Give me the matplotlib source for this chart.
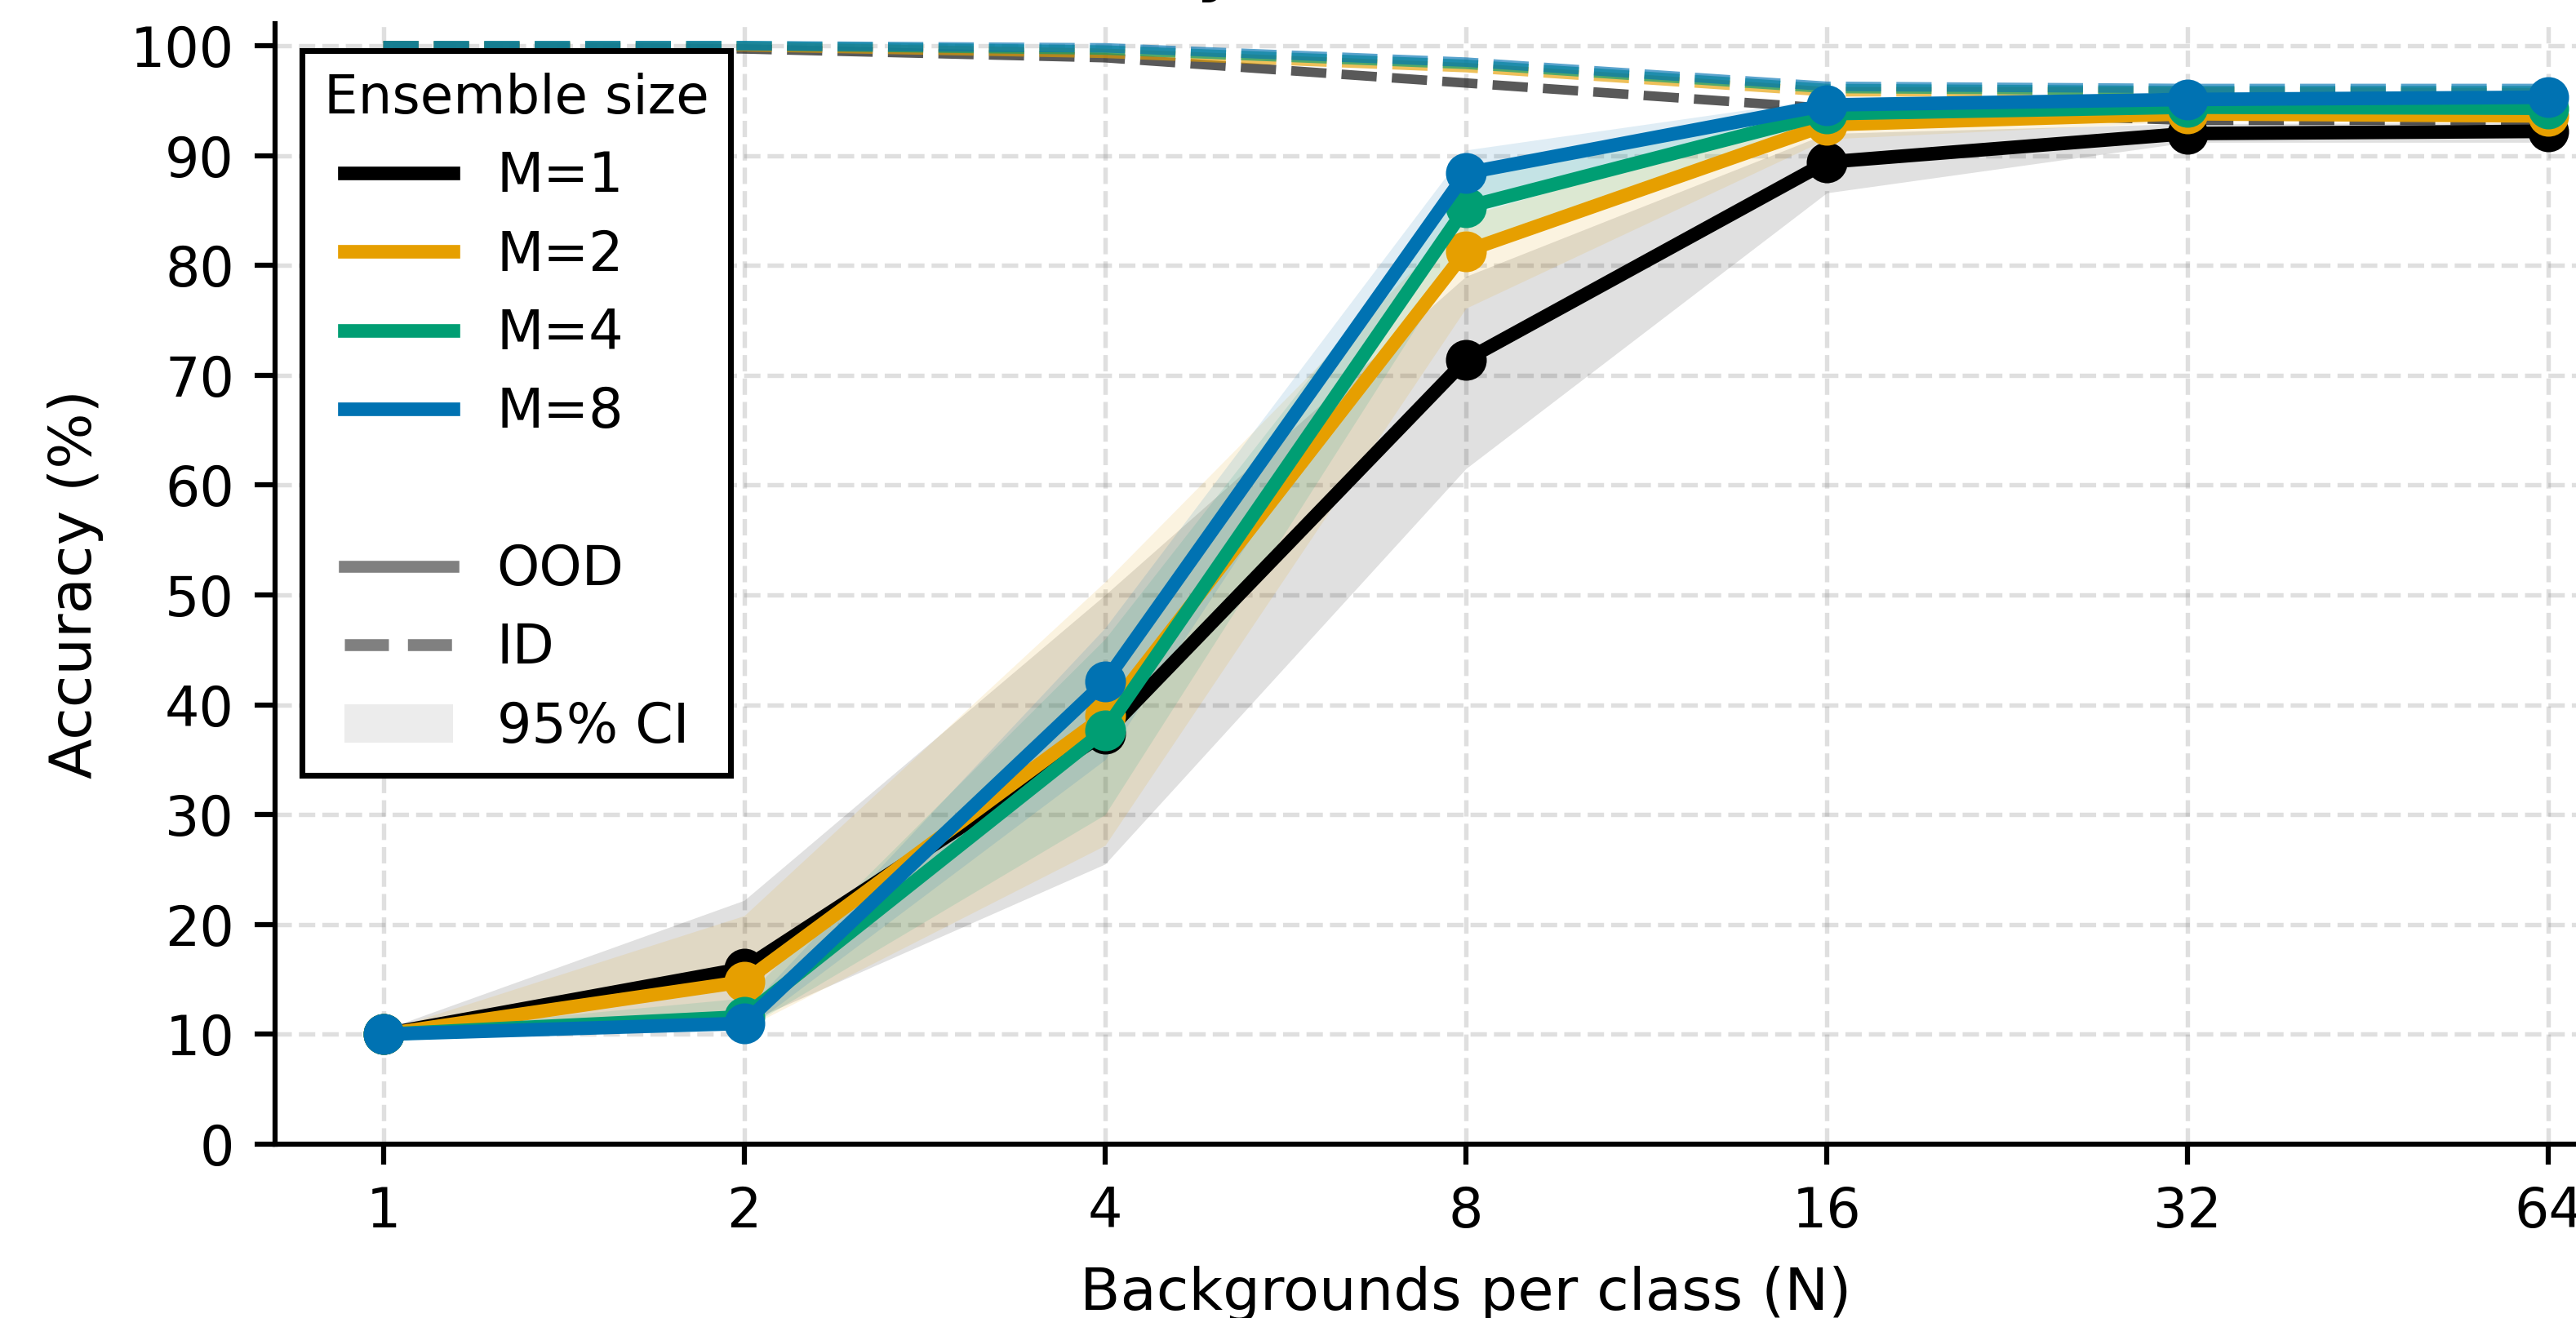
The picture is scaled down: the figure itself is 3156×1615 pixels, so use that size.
import numpy as np
import matplotlib
matplotlib.use("Agg")
import matplotlib.pyplot as plt
from matplotlib.lines import Line2D
from matplotlib.patches import Patch

plt.rcParams['font.family'] = ['DejaVu Sans']

# ---------------- data ----------------
N = [1, 2, 4, 8, 16, 32, 64]
ensemble_labels = ["M=1", "M=2", "M=4", "M=8"]
colors = ["#000000", "#E69F00", "#009E73", "#0072B2"]

ood_m1 = [10.0, 16.0, 37.4, 71.4, 89.4, 92.0, 92.2]
ood_m2 = [10.0, 14.8, 39.0, 81.3, 92.8, 93.8, 93.6]
ood_m4 = [10.0, 11.6, 37.7, 85.3, 93.8, 94.4, 94.3]
ood_m8 = [10.0, 11.0, 42.1, 88.4, 94.6, 95.1, 95.3]

id_m1 = [100.0, 99.7, 98.9, 96.6, 94.3, 93.2, 93.2]
id_m2 = [100.0, 99.9, 99.3, 98.0, 95.8, 95.8, 95.7]
id_m4 = [100.0, 100.0, 99.6, 98.3, 96.1, 95.9, 95.9]
id_m8 = [100.0, 100.0, 99.8, 98.5, 96.3, 96.1, 96.1]

ci_lo_m1 = [9.6, 11.0, 25.5, 61.5, 86.6, 91.2, 91.2]
ci_hi_m1 = [10.4, 22.2, 50.0, 79.0, 92.0, 92.9, 93.0]
ci_lo_m2 = [9.7, 10.5, 27.2, 76.1, 91.5, 93.1, 93.0]
ci_hi_m2 = [10.3, 20.8, 51.2, 84.5, 94.0, 94.5, 94.2]
ci_lo_m4 = [9.8, 10.5, 30.0, 81.5, 92.8, 93.9, 93.8]
ci_hi_m4 = [10.2, 13.3, 46.0, 88.0, 94.8, 94.9, 94.8]
ci_lo_m8 = [9.8, 10.3, 35.0, 85.0, 94.0, 94.8, 94.9]
ci_hi_m8 = [10.2, 12.0, 47.0, 90.5, 95.2, 95.4, 95.6]

ood = [ood_m1, ood_m2, ood_m4, ood_m8]
idd = [id_m1, id_m2, id_m4, id_m8]
ci_lo = [ci_lo_m1, ci_lo_m2, ci_lo_m4, ci_lo_m8]
ci_hi = [ci_hi_m1, ci_hi_m2, ci_hi_m4, ci_hi_m8]

# ---------------- figure ----------------
fig = plt.figure(figsize=(3156 / 300, 1615 / 300), dpi=300)
ax = fig.add_axes([0.10678, 0.13189, 0.92459, 0.85015])

for k in range(4):
    c = colors[k]
    ax.fill_between(N, ci_lo[k], ci_hi[k], color=c, alpha=0.12, linewidth=0)
    ax.plot(N, idd[k], linestyle="--", color=c, alpha=0.65, linewidth=2.8)
    ax.plot(N, ood[k], linestyle="-", color=c, linewidth=4, marker="o",
            markersize=11, markeredgewidth=1.0)

ax.set_xscale("log", base=2)
ax.set_xticks(N)
ax.set_xticklabels([str(n) for n in N])
ax.xaxis.set_minor_locator(matplotlib.ticker.NullLocator())
ax.set_ylim(0, 102)
ax.set_yticks(np.arange(0, 101, 10))

ax.tick_params(axis="both", labelsize=16, width=1.5, length=6, pad=6)
for s in ["top", "right"]:
    ax.spines[s].set_visible(False)
for s in ["left", "bottom"]:
    ax.spines[s].set_linewidth(1.5)

ax.grid(True, linestyle="--", color="gray", alpha=0.25, linewidth=1.3)
ax.set_axisbelow(True)

ax.set_xlabel("Backgrounds per class (N)", fontsize=17.3, labelpad=8)
ax.set_ylabel("Accuracy (%)", fontsize=17.3, labelpad=8)
ax.set_title("Accuracy vs. Number of Scenes", fontsize=18,
             fontweight="bold", pad=10)

handles = [Line2D([0], [0], color=c, lw=4) for c in colors]
handles.append(Line2D([0], [0], color="none", lw=0))
handles.append(Line2D([0], [0], color="gray", lw=3.5, linestyle="-"))
handles.append(Line2D([0], [0], color="gray", lw=3.5, linestyle="--"))
handles.append(Patch(facecolor="gray", alpha=0.15, edgecolor="none"))
labels = ensemble_labels + ["", "OOD", "ID", "95% CI"]

leg = ax.legend(handles, labels, title="Ensemble size", loc="upper left",
                fontsize=16, title_fontsize=15.8, fancybox=False, framealpha=1,
                edgecolor="black", labelspacing=0.455)
leg.get_frame().set_linewidth(1.7)

fig.savefig("out.png", dpi=300)
